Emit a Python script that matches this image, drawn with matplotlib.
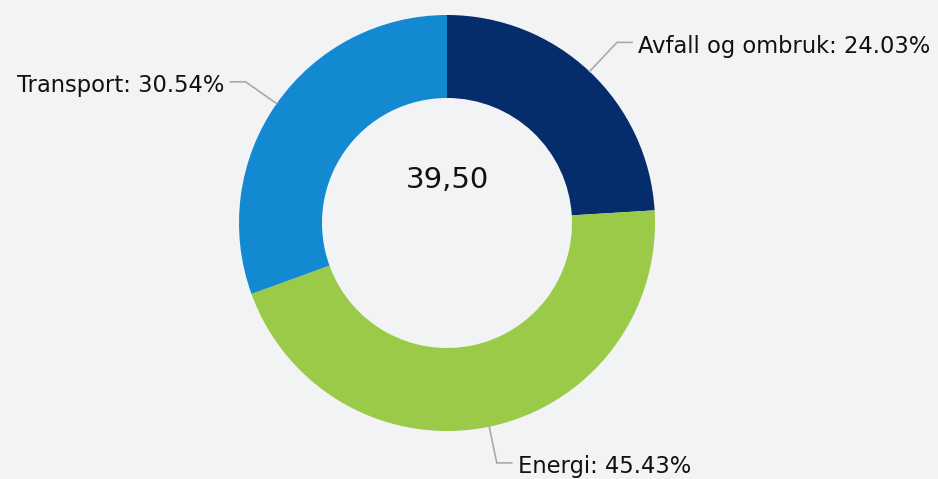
import numpy as np
import matplotlib
matplotlib.use("Agg")
import matplotlib.pyplot as plt

categories = ["Avfall og ombruk", "Energi", "Transport"]
values = [24.03, 45.43, 30.54]
colors = ["#052d6b", "#9bca48", "#1289d1"]
center_label = "39,50"

W, H = 938, 479
bg = "#f2f3f5"
fig = plt.figure(figsize=(W / 100, H / 100), dpi=100, facecolor=bg)
ax = fig.add_axes([0, 0, 1, 1])
ax.set_facecolor(bg)

cx, cy = 447, 256
R = 208
w = 83

wedges, _ = ax.pie(values, colors=colors, startangle=90, counterclock=False,
                   center=(cx, cy), radius=R, wedgeprops=dict(width=w, linewidth=0),
                   frame=True)
ax.set_xlim(0, W)
ax.set_ylim(0, H)
ax.set_aspect("equal")
ax.axis("off")

ax.text(cx, H - 180, center_label, ha="center", va="center", fontsize=21,
        color="#111111", family="DejaVu Sans")

ext = [40, 37, 38]
for wd, cat, val, e in zip(wedges, categories, values, ext):
    ang = np.deg2rad((wd.theta1 + wd.theta2) / 2)
    dx, dy = np.cos(ang), np.sin(ang)
    p0 = (cx + R * dx, cy + R * dy)
    p1 = (cx + (R + e) * dx, cy + (R + e) * dy)
    sgn = 1 if dx >= 0 else -1
    p2 = (p1[0] + sgn * 15, p1[1])
    ax.plot([p0[0], p1[0], p2[0]], [p0[1], p1[1], p2[1]], color="#aaaaaa", lw=1.2,
            solid_joinstyle="miter")
    ax.text(p2[0] + sgn * 6, p2[1] - 4, f"{cat}: {val:.2f}%", ha="left" if sgn > 0 else "right",
            va="center", fontsize=16.3, color="#111111", family="DejaVu Sans")

fig.savefig("out.png", dpi=100, facecolor=bg)
